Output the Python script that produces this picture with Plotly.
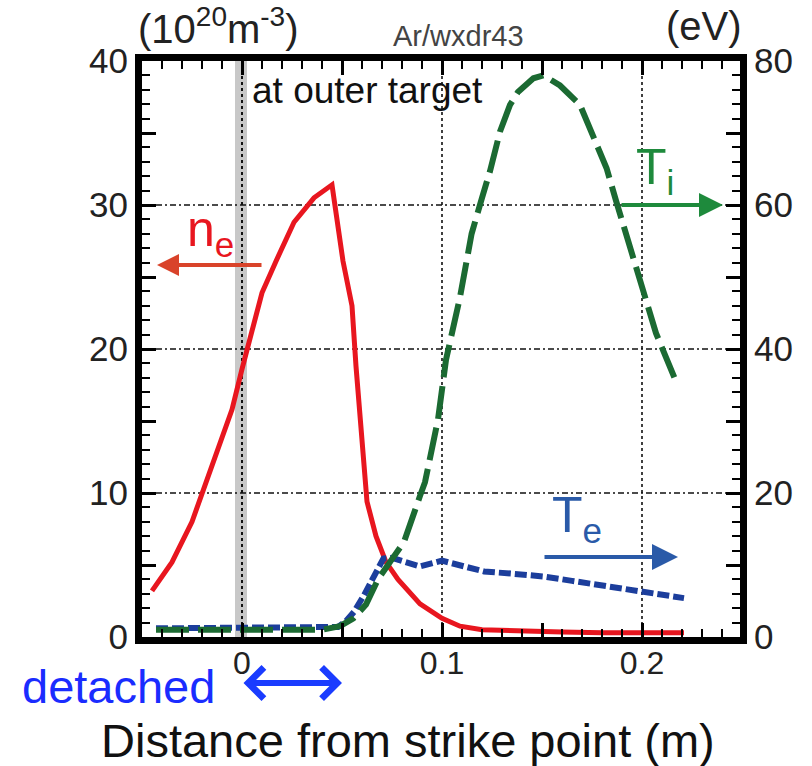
import plotly.graph_objects as go

# ---------------- data ----------------
ne_x = [-0.045, -0.035, -0.025, -0.015, -0.005, 0.0, 0.005, 0.01, 0.017, 0.026, 0.036, 0.045,
        0.0505, 0.055, 0.057, 0.0625, 0.067, 0.072, 0.078, 0.089, 0.1, 0.109, 0.12, 0.14,
        0.16, 0.18, 0.2, 0.221]
ne_y = [3.2, 5.2, 8.0, 12.0, 15.8, 18.6, 21.1, 23.9, 26.1, 28.8, 30.5, 31.4,
        26.1, 23.0, 18.8, 9.4, 7.0, 5.2, 4.0, 2.3, 1.3, 0.75, 0.5, 0.4,
        0.35, 0.3, 0.3, 0.3]

te_x = [-0.043, -0.02, 0.0, 0.02, 0.04, 0.048, 0.052, 0.056, 0.061, 0.066, 0.0707, 0.075,
        0.082, 0.089, 0.1, 0.11, 0.121, 0.135, 0.151, 0.165, 0.179, 0.19, 0.2, 0.211, 0.221]
te_y = [1.2, 1.2, 1.2, 1.2, 1.2, 1.4, 2.2, 3.5, 5.8, 8.6, 10.9, 11.0,
        10.3, 9.8, 10.6, 9.9, 9.1, 8.8, 8.4, 7.8, 7.2, 6.8, 6.3, 5.9, 5.4]

ti_x = [-0.043, -0.02, 0.0, 0.02, 0.04, 0.049, 0.0557, 0.062, 0.068, 0.0757, 0.081, 0.089,
        0.0915, 0.098, 0.102, 0.109, 0.1148, 0.12, 0.124, 0.129, 0.134, 0.138, 0.1457,
        0.1507, 0.159, 0.169, 0.175, 0.1823, 0.187, 0.194, 0.202, 0.207, 0.2173]
ti_y = [1.0, 1.0, 1.0, 1.0, 1.0, 1.5, 2.6, 4.5, 8.0, 11.1, 13.2, 19.6,
        21.5, 30.2, 38.5, 47.2, 56.0, 61.0, 64.7, 70.2, 73.9, 75.7, 77.6,
        78.0, 76.6, 73.9, 69.8, 65.1, 60.6, 54.1, 46.8, 42.2, 35.3]

x_tickvals = [-0.05, 0.0, 0.05, 0.1, 0.15, 0.2]
x_ticktext = ["", "0", "", "0.1", "", "0.2"]
y_tickvals = [0, 5, 10, 15, 20, 25, 30, 35, 40]
y_ticktext = ["0", "", "10", "", "20", "", "30", "", "40"]
y2_tickvals = [0, 10, 20, 30, 40, 50, 60, 70, 80]
y2_ticktext = ["0", "", "20", "", "40", "", "60", "", "80"]
x_grid = [0.1, 0.2]
y_grid = [10, 20, 30]

FONT = "Liberation Sans, Arial, Helvetica, sans-serif"
RED = "#e8161f"
GREEN = "#1b6a32"
BLUE = "#1c3e9c"
TICKC = "#000000"

L, R, T, B = 142, 72, 61, 129
W, H = 812, 766
pw, ph = W - L - R, H - T - B
def px(xp):
    return (xp - L) / pw
def py(yp):
    return (H - B - yp) / ph

fig = go.Figure()
fig.add_trace(go.Scatter(x=ne_x, y=ne_y, mode="lines",
                         line=dict(color=RED, width=5), yaxis="y"))
fig.add_trace(go.Scatter(x=te_x, y=te_y, mode="lines",
                         line=dict(color=BLUE, width=6, dash="12px,4px"), yaxis="y2"))
fig.add_trace(go.Scatter(x=ti_x, y=ti_y, mode="lines",
                         line=dict(color=GREEN, width=6, dash="33px,9px"), yaxis="y2"))

shapes = []
shapes.append(dict(type="rect", xref="x", yref="paper", x0=-0.0035, x1=0.0025, y0=0, y1=1,
                   fillcolor="#c8c8c8", line=dict(width=0), layer="below"))
shapes.append(dict(type="line", xref="x", yref="paper", x0=0, x1=0, y0=0, y1=1,
                   line=dict(color="#111", width=2, dash="dot"), layer="below"))
for gx in x_grid:
    shapes.append(dict(type="line", xref="x", yref="paper", x0=gx, x1=gx, y0=0, y1=1,
                       line=dict(color="#111", width=1.6, dash="dot"), layer="below"))
for gy in y_grid:
    shapes.append(dict(type="line", xref="paper", yref="y", x0=0, x1=1, y0=gy, y1=gy,
                       line=dict(color="#111", width=1.6, dash="6px,3px,2px,3px"), layer="below"))

ann = []
ann.append(dict(text="(10<sup>20</sup>m<sup>-3</sup>)", xref="paper", yref="paper",
                x=px(136), y=py(26), xanchor="left", yanchor="middle", showarrow=False,
                font=dict(size=40, family=FONT, color="#222")))
ann.append(dict(text="(eV)", xref="paper", yref="paper",
                x=px(744), y=py(26), xanchor="right", yanchor="middle", showarrow=False,
                font=dict(size=40, family=FONT, color="#222")))
ann.append(dict(text="Ar/wxdr43", xref="paper", yref="paper",
                x=px(458), y=py(36), xanchor="center", yanchor="middle", showarrow=False,
                font=dict(size=29, family=FONT, color="#444")))
ann.append(dict(text="at outer target", xref="paper", yref="paper",
                x=px(250), y=py(90), xanchor="left", yanchor="middle", showarrow=False,
                font=dict(size=37, family=FONT, color="#111")))
ann.append(dict(text="n<sub>e</sub>", xref="paper", yref="paper",
                x=px(210), y=py(232), xanchor="center", yanchor="middle", showarrow=False,
                font=dict(size=50, family=FONT, color=RED)))
ann.append(dict(text="", xref="paper", yref="paper",
                x=px(157), y=py(265), ax=106, ay=0, showarrow=True,
                arrowhead=2, arrowsize=1.1, arrowwidth=4, arrowcolor="#d9432a"))
ann.append(dict(text="T<sub>i</sub>", xref="paper", yref="paper",
                x=px(655), y=py(170), xanchor="center", yanchor="middle", showarrow=False,
                font=dict(size=50, family=FONT, color="#1e8a3c")))
ann.append(dict(text="", xref="paper", yref="paper",
                x=px(723), y=py(205), ax=-103, ay=0, showarrow=True,
                arrowhead=2, arrowsize=1.2, arrowwidth=4, arrowcolor="#1e8a3c"))
ann.append(dict(text="T<sub>e</sub>", xref="paper", yref="paper",
                x=px(577), y=py(518), xanchor="center", yanchor="middle", showarrow=False,
                font=dict(size=50, family=FONT, color="#2a5aa8")))
ann.append(dict(text="", xref="paper", yref="paper",
                x=px(678), y=py(557), ax=-135, ay=0, showarrow=True,
                arrowhead=2, arrowsize=1.3, arrowwidth=4, arrowcolor="#2a5aa8"))
ann.append(dict(text="detached", xref="paper", yref="paper",
                x=px(118), y=py(686), xanchor="center", yanchor="middle", showarrow=False,
                font=dict(size=47, family=FONT, color="#1a2cff")))
ann.append(dict(text="", xref="paper", yref="paper",
                x=px(342), y=py(683), ax=-100, ay=0, showarrow=True,
                arrowhead=4, startarrowhead=4, arrowside="end+start",
                arrowsize=1.0, startarrowsize=1.0, arrowwidth=6, arrowcolor="#1a3cff"))
ann.append(dict(text="Distance from strike point (m)", xref="paper", yref="paper",
                x=px(408), y=py(740), xanchor="center", yanchor="middle", showarrow=False,
                font=dict(size=47, family=FONT, color="#111")))

common = dict(ticks="inside", ticklen=14, tickwidth=2.5, tickcolor=TICKC,
              showline=True, linewidth=7, linecolor="black",
              showgrid=False, zeroline=False, layer="above traces")

fig.update_layout(
    width=W, height=H,
    margin=dict(l=L, r=R, t=T, b=B),
    paper_bgcolor="white", plot_bgcolor="white",
    showlegend=False,
    shapes=shapes, annotations=ann,
    xaxis=dict(range=[-0.05, 0.249], tickmode="array", tickvals=x_tickvals, ticktext=x_ticktext,
               mirror="ticks", ticklabelstandoff=-8,
               minor=dict(tickmode="linear", tick0=0, dtick=0.01, ticks="inside",
                          ticklen=8, tickwidth=2, tickcolor=TICKC),
               tickfont=dict(size=32, family=FONT, color="#222"), **common),
    yaxis=dict(range=[0, 40], tickmode="array", tickvals=y_tickvals, ticktext=y_ticktext,
               minor=dict(tickmode="linear", tick0=0, dtick=1, ticks="inside",
                          ticklen=8, tickwidth=2, tickcolor=TICKC),
               tickfont=dict(size=35, family=FONT, color="#222"), **common),
    yaxis2=dict(range=[0, 80], overlaying="y", side="right", anchor="x",
                tickmode="array", tickvals=y2_tickvals, ticktext=y2_ticktext,
                minor=dict(tickmode="linear", tick0=0, dtick=2, ticks="inside",
                           ticklen=8, tickwidth=2, tickcolor=TICKC),
                tickfont=dict(size=35, family=FONT, color="#222"), **common),
)

fig.write_html("out.html")
